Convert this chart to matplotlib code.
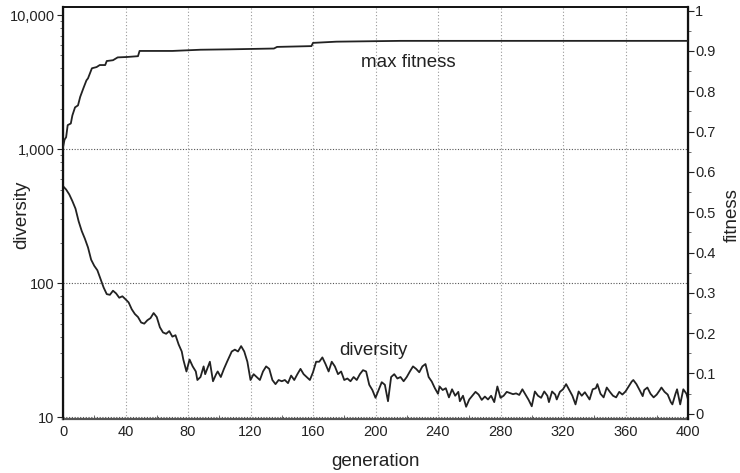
import matplotlib
matplotlib.use("Agg")
import matplotlib.pyplot as plt
from matplotlib.ticker import FixedLocator, FuncFormatter, MultipleLocator, LogLocator, NullFormatter

plt.rcParams['font.family'] = ['Liberation Sans', 'DejaVu Sans']

div_gen = [0, 2, 4, 6, 8, 10, 12, 14, 16, 18, 20, 22, 24, 26, 28, 30, 32, 34, 36, 38, 40,
           42, 44, 46, 48, 50, 52, 54, 56, 58, 60, 62, 64, 66, 68, 70, 72, 74, 76, 77, 79,
           81, 83, 85, 86, 88, 90, 91, 94, 96, 98, 99, 101, 103, 105, 108, 110, 112, 114,
           116, 118, 120, 122, 124, 126, 128, 130, 132, 134, 136, 138, 140, 142, 144, 146,
           148, 150, 152, 154, 156, 158, 160, 162, 164, 166, 168, 170, 172, 174, 176, 178,
           180, 182, 184, 186, 188, 190, 192, 194, 196, 198, 200, 202, 204, 206, 208, 210,
           212, 214, 216, 218, 220, 222, 224, 226, 228, 230, 232, 234, 236, 238, 240, 241,
           243, 245, 247, 249, 251, 253, 254, 256, 258, 260, 262, 264, 266, 268, 270, 272,
           274, 276, 278, 280, 282, 284, 286, 288, 290, 292, 294, 296, 298, 300, 302, 304,
           306, 308, 310, 311, 313, 315, 316, 318, 320, 322, 324, 326, 328, 330, 332, 334,
           336, 337, 339, 341, 342, 344, 346, 348, 350, 352, 354, 356, 358, 360, 362, 364,
           365, 367, 369, 371, 372, 374, 376, 378, 380, 382, 383, 385, 387, 389, 390, 392,
           393, 395, 397, 399, 400]
diversity = [530, 500, 460, 410, 360, 290, 245, 215, 185, 150, 135, 125, 108, 93, 83, 82, 88,
             84, 78, 80, 76, 72, 64, 59, 56, 51, 50, 53, 55, 60, 56, 47, 43, 42, 44, 40, 41,
             35, 31, 27, 22, 27, 24, 22, 19, 20, 24, 21, 26, 18.6, 21, 22, 20, 23, 26, 31,
             32, 31, 34, 31, 26, 19, 21, 20, 19, 22, 24, 23, 19, 17.7, 19, 18.6, 19, 18,
             20.5, 19, 21, 23, 21, 20, 19, 21.7, 26, 26, 28, 25, 22, 26, 24, 21, 22, 19,
             19.5, 18.6, 20, 19, 21, 22.5, 22, 17.5, 16, 14, 16, 18.3, 17.5, 13.2, 20, 21,
             19.5, 20, 18.6, 20, 22, 24, 23, 21.7, 24, 25, 20, 18.5, 16.5, 15, 17, 16, 16.5,
             14.1, 16.2, 14.5, 15.5, 13.2, 14.5, 12, 13.6, 14.5, 15.5, 14.8, 13.5, 14.3,
             13.6, 14.5, 13, 17, 14, 14.5, 15.5, 15.2, 14.9, 15.1, 14.7, 16.2, 14.8, 13.5,
             12.1, 15.6, 14.5, 14, 15.6, 14.5, 13, 15.6, 14.8, 13.6, 15.5, 16.2, 17.7, 16,
             14.5, 12.5, 15.6, 14.5, 15.4, 14.2, 13.6, 16.2, 16.5, 17.7, 15, 14.1, 16.7,
             15.5, 14.5, 14.1, 15.5, 14.8, 15.6, 17, 18.5, 19, 17.7, 16, 14.4, 16, 16.7,
             15, 14.1, 14.8, 16, 16.7, 15.5, 14.8, 13, 12.5, 15, 16.2, 12.5, 16.2, 15, 13.6]

fit_gen = [0, 1, 2, 3, 5, 6, 7.7, 9.6, 11, 13, 15, 16, 18.5, 21.5, 23.5, 27, 28, 32, 35, 41,
           48, 49, 70, 88, 107, 135, 137, 159, 160, 175, 216, 400]
max_fitness = [0.661, 0.68, 0.686, 0.716, 0.72, 0.74, 0.76, 0.765, 0.786, 0.807, 0.827,
               0.832, 0.857, 0.86, 0.865, 0.865, 0.875, 0.877, 0.884, 0.885, 0.887, 0.9,
               0.9, 0.903, 0.904, 0.906, 0.910, 0.912, 0.920, 0.923, 0.925, 0.925]

x_ticks = [0, 40, 80, 120, 160, 200, 240, 280, 320, 360, 400]
div_ticks = [10, 100, 1000, 10000]
div_grid = [10, 100, 1000]
fit_ticks = [0, 0.1, 0.2, 0.3, 0.4, 0.5, 0.6, 0.7, 0.8, 0.9, 1]

fig = plt.figure(figsize=(7.4, 4.73), dpi=100)
ax = fig.add_axes([63/740, 1-419/473, (688-63)/740, (419-7)/473])
ax2 = ax.twinx()

line_col = '#222222'
ax.plot(div_gen, diversity, color=line_col, lw=1.3, zorder=3)
ax2.plot(fit_gen, max_fitness, color=line_col, lw=1.3, zorder=3)

ax.set_yscale('log')
ax.set_ylim(10**0.988, 10**4.06)
ax.set_xlim(0, 400)
ax2.set_ylim(-0.013, 1.009)

ax.xaxis.set_major_locator(FixedLocator(x_ticks))
ax.xaxis.set_minor_locator(MultipleLocator(20))
ax.yaxis.set_major_locator(FixedLocator(div_ticks))
ax.yaxis.set_minor_locator(LogLocator(base=10, subs=range(2, 10)))
ax.yaxis.set_minor_formatter(NullFormatter())
ax.yaxis.set_major_formatter(FuncFormatter(lambda v, p: f"{int(round(v)):,}"))
ax2.yaxis.set_major_locator(FixedLocator(fit_ticks))
ax2.yaxis.set_minor_locator(MultipleLocator(0.05))
ax2.yaxis.set_major_formatter(FuncFormatter(lambda v, p: "0" if abs(v) < 1e-9 else ("1" if abs(v-1) < 1e-9 else f"{v:.1f}")))

tc = '#222222'
ax.tick_params(axis='x', which='major', direction='in', length=0, labelsize=10.5, colors=tc, pad=4)
ax.tick_params(axis='x', which='minor', direction='in', length=3, color='#555555')
ax.tick_params(axis='y', which='major', direction='out', length=4, labelsize=10.5, colors=tc, pad=2)
ax.tick_params(axis='y', which='minor', direction='out', length=2.5, color='#555555')
ax2.tick_params(axis='y', which='major', direction='out', length=4, labelsize=10.5, colors=tc, pad=1)
ax2.tick_params(axis='y', which='minor', direction='out', length=2.5, color='#555555')

ax.grid(True, axis='x', which='major', linestyle=(0, (1, 2)), color='#999999', lw=0.8)
for g in div_grid:
    ax.axhline(g, linestyle=(0, (1, 1.5)), color='#555555', lw=0.8, zorder=1)

for s in ['left', 'right', 'top']:
    ax.spines[s].set_color('#111111')
    ax2.spines[s].set_color('#111111')
ax.spines['left'].set_linewidth(1.6)
ax2.spines['right'].set_linewidth(1.6)
ax.spines['top'].set_linewidth(1.2)
ax2.spines['top'].set_linewidth(1.2)
ax.spines['bottom'].set_color('#555555')
ax.spines['bottom'].set_linewidth(1.6)
ax2.spines['bottom'].set_visible(False)

fig.text(22/740, 1-215/473, 'diversity', rotation=90, ha='center', va='center', fontsize=13.5, color=tc)
fig.text(732/740, 1-215/473, 'fitness', rotation=90, ha='center', va='center', fontsize=13.5, color=tc)
fig.text(376/740, 1-461/473, 'generation', ha='center', va='center', fontsize=13.5, color=tc)

ax2.text(221, 0.872, 'max fitness', ha='center', va='center', fontsize=13.5, color=tc)
ax2.text(199, 0.157, 'diversity', ha='center', va='center', fontsize=13.5, color=tc)

fig.savefig('out.png', dpi=100)
